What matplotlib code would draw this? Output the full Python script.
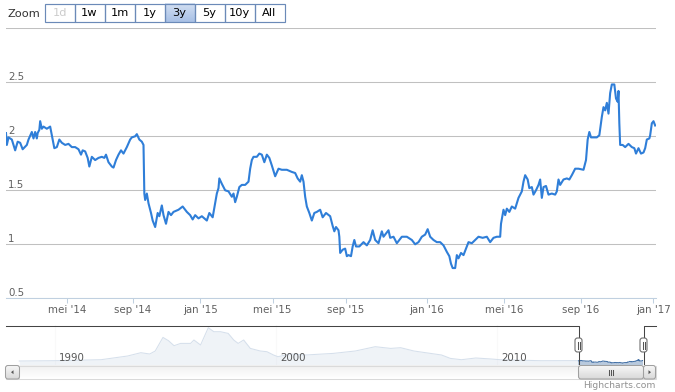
import matplotlib
matplotlib.use('Agg')
import matplotlib.pyplot as plt
from matplotlib.patches import Rectangle, FancyBboxPatch, Polygon
from matplotlib.colors import LinearSegmentedColormap
import numpy as np

# ------------------------------------------------------------------ data
# main series: trading-session index (ordinal axis) and value
session_index = [0, 1, 3, 7, 11, 14, 17, 20, 25, 27, 31, 33, 35, 37, 38, 40, 41, 43, 45, 49,
                 53, 55, 58, 61, 64, 67, 71, 75, 79, 83, 87, 90, 92, 95, 98, 100, 103, 107, 111, 115,
                 118, 120, 123, 127, 129, 132, 135, 138, 141, 145, 149, 151, 155, 157, 160, 163, 165, 166, 167, 169,
                 171, 174, 176, 179, 182, 184, 187, 189, 192, 195, 198, 201, 207, 212, 217, 221, 224, 227, 231, 235,
                 241, 244, 248, 251, 253, 255, 256, 259, 263, 267, 271, 273, 275, 277, 280, 283, 287, 291, 293, 295,
                 297, 301, 304, 307, 310, 313, 316, 319, 323, 327, 331, 337, 343, 347, 350, 353, 355, 357, 359, 361,
                 364, 367, 370, 373, 377, 380, 384, 389, 392, 394, 396, 399, 400, 401, 404, 407, 409, 411, 414, 416,
                 418, 420, 424, 429, 433, 437, 440, 443, 447, 451, 453, 456, 459, 461, 465, 469, 475, 481, 487, 491,
                 495, 499, 503, 506, 509, 513, 517, 521, 525, 529, 532, 534, 536, 539, 541, 543, 546, 549, 552, 555,
                 559, 563, 567, 572, 577, 581, 585, 589, 593, 594, 597, 599, 601, 604, 607, 611, 615, 619, 621, 623,
                 626, 628, 631, 633, 636, 639, 641, 643, 645, 648, 651, 655, 659, 661, 663, 665, 669, 673, 676, 679,
                 683, 687, 693, 696, 698, 700, 702, 705, 709, 712, 715, 717, 719, 721, 723, 725, 727, 730, 732, 734,
                 735, 736, 737, 740, 743, 747, 751, 754, 756, 759, 762, 765, 767, 769, 772, 773, 775, 777, 779]
rate_values = [2.03, 1.92, 1.99, 1.97, 1.87, 1.95, 1.94, 1.88, 1.92, 1.97, 2.04, 1.98, 2.04, 1.98, 2.03, 2.06, 2.14, 2.07, 2.09, 2.07,
               2.09, 2.01, 1.89, 1.90, 1.97, 1.94, 1.92, 1.93, 1.90, 1.90, 1.88, 1.83, 1.87, 1.86, 1.80, 1.72, 1.81, 1.78, 1.80, 1.81,
               1.80, 1.83, 1.76, 1.72, 1.71, 1.78, 1.83, 1.87, 1.84, 1.90, 1.97, 1.99, 2.00, 2.02, 1.97, 1.95, 1.92, 1.47, 1.41, 1.47,
               1.38, 1.29, 1.22, 1.16, 1.29, 1.26, 1.36, 1.27, 1.19, 1.30, 1.27, 1.30, 1.32, 1.35, 1.30, 1.27, 1.23, 1.27, 1.24, 1.26,
               1.22, 1.29, 1.25, 1.38, 1.47, 1.52, 1.61, 1.56, 1.50, 1.49, 1.44, 1.47, 1.39, 1.44, 1.53, 1.55, 1.55, 1.58, 1.70, 1.78,
               1.81, 1.81, 1.84, 1.83, 1.76, 1.83, 1.80, 1.73, 1.63, 1.70, 1.69, 1.69, 1.67, 1.66, 1.61, 1.58, 1.64, 1.58, 1.44, 1.35,
               1.29, 1.22, 1.29, 1.30, 1.32, 1.25, 1.29, 1.26, 1.17, 1.12, 1.16, 1.13, 1.07, 0.92, 0.95, 0.96, 0.89, 0.90, 0.89, 0.98,
               1.04, 0.98, 0.98, 1.02, 0.99, 1.04, 1.13, 1.04, 1.01, 1.12, 1.07, 1.10, 1.13, 1.06, 1.07, 1.01, 1.07, 1.07, 1.04, 1.00,
               1.02, 1.07, 1.09, 1.14, 1.07, 1.04, 1.02, 1.02, 0.99, 0.93, 0.89, 0.82, 0.78, 0.78, 0.90, 0.87, 0.92, 0.90, 0.96, 1.02,
               1.01, 1.04, 1.07, 1.06, 1.07, 1.02, 1.06, 1.07, 1.07, 1.19, 1.32, 1.27, 1.33, 1.30, 1.35, 1.33, 1.43, 1.49, 1.58, 1.64,
               1.60, 1.52, 1.53, 1.46, 1.50, 1.55, 1.60, 1.43, 1.53, 1.54, 1.46, 1.47, 1.46, 1.49, 1.60, 1.55, 1.60, 1.61, 1.60, 1.64,
               1.70, 1.70, 1.69, 1.78, 1.97, 2.04, 1.99, 1.99, 1.99, 2.01, 2.18, 2.27, 2.24, 2.31, 2.21, 2.40, 2.48, 2.48, 2.35, 2.32,
               2.42, 2.12, 1.92, 1.92, 1.90, 1.93, 1.90, 1.89, 1.84, 1.89, 1.84, 1.85, 1.89, 1.97, 1.98, 2.01, 2.12, 2.14, 2.10]

month_tick_index = [73, 152, 233, 320, 408, 505, 598, 690, 777]
month_tick_labels = ["mei '14", "sep '14", "jan '15", "mei '15", "sep '15",
                     "jan '16", "mei '16", "sep '16", "jan '17"]
session_range = (0, 780)

y_ticks = [0.5, 1, 1.5, 2, 2.5, 3]
y_tick_labels = ['0.5', '1', '1.5', '2', '2.5', '']
y_range = (0.5, 3.0)

# navigator (full history)
nav_years = [1988.4, 1990.0, 1992.1, 1993.3, 1993.9, 1994.3, 1994.55, 1994.9, 1995.15, 1995.4,
             1995.7, 1996.15, 1996.3, 1996.6, 1996.95, 1997.2, 1997.5, 1997.85, 1998.1, 1998.3,
             1998.55, 1998.85, 1999.3, 1999.6, 1999.9, 2000.1, 2000.65, 2001.35, 2002.6, 2003.6,
             2004.5, 2005.2, 2005.65, 2006.25, 2007.0, 2007.5, 2007.9, 2008.4, 2009.05, 2009.75,
             2010.15, 2011.1, 2012.0, 2013.6]
nav_values = [1.85, 2.0, 2.5, 4.35, 6.0, 5.35, 6.85, 13.65, 12.0, 9.5,
              10.65, 10.65, 12.35, 9.85, 18.5, 16.5, 16.5, 15.65, 12.35, 10.65,
              12.35, 8.15, 6.85, 6.5, 4.85, 4.0, 5.35, 4.85, 5.65, 6.85,
              9.0, 8.15, 8.5, 6.85, 5.65, 4.85, 3.15, 2.5, 3.35, 2.85,
              2.5, 2.25, 2.0, 2.0]
nav_year_ticks = [1990, 2000, 2010]
nav_range = (1987.8, 2017.2)
nav_value_range = (0, 19.7)
nav_selection = (2013.65, 2016.6)

zoom_buttons = ['1d', '1w', '1m', '1y', '3y', '5y', '10y', 'All']
zoom_selected = '3y'
zoom_disabled = ['1d']

# ------------------------------------------------------------------ layout
W, H = 675, 392
fig = plt.figure(figsize=(W / 100, H / 100), dpi=100)
fig.patch.set_facecolor('white')
FONT = 'DejaVu Sans'
FS = 7.4


def fbox(x0, y0, x1, y1):
    return [x0 / W, 1 - y1 / H, (x1 - x0) / W, (y1 - y0) / H]


LINE = '#2f7ed8'

# main plot
ax = fig.add_axes(fbox(6, 28.3, 656, 298.3))
ax.plot(session_index, rate_values, color=LINE, lw=1.5, solid_joinstyle='round', zorder=3)
ax.set_xlim(*session_range)
ax.set_ylim(*y_range)
ax.set_yticks(y_ticks)
ax.yaxis.grid(True, color='#C0C0C0', lw=0.75)
ax.tick_params(axis='y', length=0, labelleft=False)
for v, lbl in zip(y_ticks, y_tick_labels):
    ax.annotate(lbl, xy=(0, v), xycoords=('axes fraction', 'data'), xytext=(1.4, 1.3),
                textcoords='offset points', ha='left', va='baseline', fontsize=FS,
                color='#606060', family=FONT)
ax.set_xticks(month_tick_index)
ax.set_xticklabels(month_tick_labels, fontsize=FS, color='#606060', family=FONT)
ax.tick_params(axis='x', length=3.6, width=0.75, color='#C0D0E0', pad=1.0, direction='out')
for s in ['top', 'left', 'right']:
    ax.spines[s].set_visible(False)
ax.spines['bottom'].set_color('#C0D0E0')
ax.spines['bottom'].set_linewidth(0.75)
ax.set_axisbelow(True)

# navigator
axn = fig.add_axes(fbox(6, 325.3, 656, 364.7))
axn.set_xlim(*nav_range)
axn.set_ylim(*nav_value_range)
axn.axis('off')
sel0, sel1 = nav_selection
nav_x = list(nav_years) + [sel0 + i / session_index[-1] * (sel1 - sel0) for i in session_index]
nav_y = list(nav_values) + list(rate_values)
for yr in nav_year_ticks:
    axn.axvline(yr, color='#E4E4E4', lw=0.75, zorder=0)
    axn.annotate(str(yr), xy=(yr, 0), xycoords='data', xytext=(3.2, 2.4),
                 textcoords='offset points', ha='left', va='baseline', fontsize=FS,
                 color='#555555', family=FONT, zorder=6)
axn.fill_between(nav_x, nav_y, 0, color='#4572A7', alpha=0.38, lw=0, zorder=2)
axn.plot(nav_x, nav_y, color='#4572A7', lw=0.75, zorder=3)
axn.add_patch(Rectangle((nav_range[0], 0), sel0 - nav_range[0], nav_value_range[1],
                        facecolor='white', alpha=0.78, lw=0, zorder=4))
axn.add_patch(Rectangle((sel1, 0), nav_range[1] - sel1, nav_value_range[1],
                        facecolor='white', alpha=0.78, lw=0, zorder=4))
fig.canvas.draw()
px0 = axn.transData.transform((sel0, 0))[0]
px1 = axn.transData.transform((sel1, 0))[0]
px0, px1 = round(px0) + 0.5, round(px1) + 0.5

# UI overlay in pixel coordinates
ui = fig.add_axes([0, 0, 1, 1], zorder=10)
ui.set_xlim(0, W)
ui.set_ylim(H, 0)
ui.axis('off')
ui.patch.set_alpha(0)

# navigator outline
ui.plot([6, px0, px0], [325.5, 325.5, 365], color='#444444', lw=0.75)
ui.plot([px1, px1, 656], [365, 325.5, 325.5], color='#444444', lw=0.75)

# scrollbar
sb_top, sb_bot = 365.5, 379
track = np.linspace(0.94, 1.0, 20).reshape(-1, 1)
ui.imshow(track, extent=(6, 656, sb_bot, sb_top), cmap='gray', vmin=0, vmax=1,
          aspect='auto', zorder=1)
ui.add_patch(Rectangle((6, sb_top), 650, sb_bot - sb_top, facecolor='none',
                       edgecolor='#DADADA', lw=0.75, zorder=2))
grad = np.linspace(0.97, 0.85, 20).reshape(-1, 1)
for (a, b) in [(5.5, 19.5), (px0, px1), (px1, 655.5)]:
    ui.imshow(grad, extent=(a, b, sb_bot, sb_top), cmap='gray', vmin=0, vmax=1,
              aspect='auto', zorder=3)
    ui.add_patch(FancyBboxPatch((a, sb_top), b - a, sb_bot - sb_top,
                                boxstyle='round,pad=0,rounding_size=2.5',
                                facecolor='none', edgecolor='#A0A0A0', lw=0.75, zorder=4))
ui.add_patch(Polygon([[11, 372.2], [13.5, 370.2], [13.5, 374.2]], closed=True,
                     facecolor='#555555', lw=0, zorder=5))
ui.add_patch(Polygon([[651, 372.2], [648.5, 370.2], [648.5, 374.2]], closed=True,
                     facecolor='#555555', lw=0, zorder=5))
cx = (px0 + px1) / 2
for dx in (-2, 0, 2):
    ui.plot([cx + dx, cx + dx], [369.5, 375], color='#555555', lw=0.75, zorder=5)

# navigator handles
for hx in (px0, px1):
    ui.add_patch(FancyBboxPatch((hx - 3.5, 338), 7, 14,
                                boxstyle='round,pad=0,rounding_size=2.5',
                                facecolor='white', edgecolor='#666666', lw=0.75, zorder=6))
    for dx in (-1, 1):
        ui.plot([hx + dx, hx + dx], [341.5, 348.5], color='#555555', lw=0.75, zorder=7)

# range selector
ui.text(7, 13.5, 'Zoom', ha='left', va='center', fontsize=8.2, color='#333333', family=FONT)
btn_edges = [44.5, 74.5, 104.5, 134.5, 164.5, 194.5, 224.5, 254.5, 284.5]
for i, lbl in enumerate(zoom_buttons):
    a, b = btn_edges[i], btn_edges[i + 1]
    if lbl == zoom_selected:
        g = np.linspace(0, 1, 20).reshape(-1, 1)
        cm = LinearSegmentedColormap.from_list('sel', ['#D2DFF2', '#A9C1E6'])
        ui.imshow(g, extent=(a, b, 22, 3.5), cmap=cm, aspect='auto', zorder=1)
    ui.add_patch(Rectangle((a, 3.5), b - a, 18.5, facecolor='none',
                           edgecolor='#6B8AB8', lw=0.85, zorder=2))
    col = '#CCCCCC' if lbl in zoom_disabled else '#000000'
    ui.text((a + b) / 2, 13.3, lbl, ha='center', va='center', fontsize=8.2,
            color=col, family=FONT, zorder=3)

# credits
ui.text(655.5, 388, 'Highcharts.com', ha='right', va='baseline', fontsize=6.6,
        color='#909090', family=FONT)

fig.savefig('out.png', dpi=100, facecolor='white')
